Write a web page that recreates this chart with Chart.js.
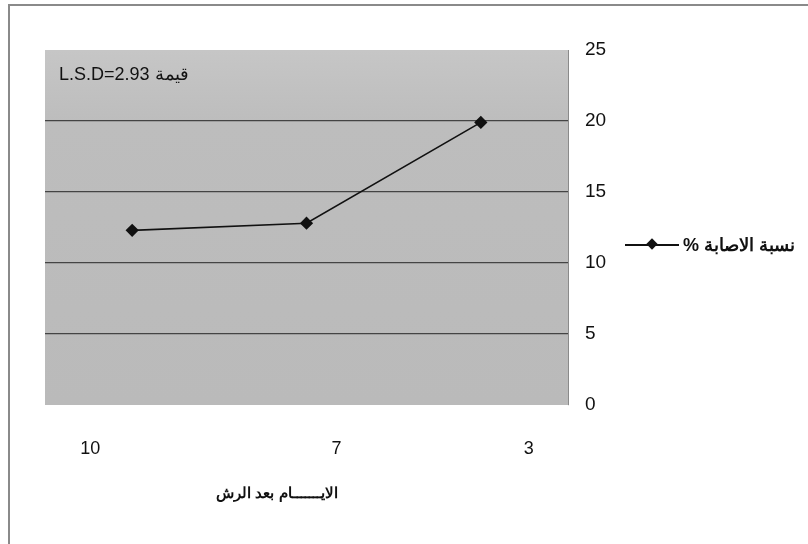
<!DOCTYPE html>
<html lang="ar">
<head>
<meta charset="utf-8">
<title>نسبة الاصابة</title>
<script src="https://cdn.jsdelivr.net/npm/chart.js@4/dist/chart.umd.min.js"></script>
<style>
  html, body { margin: 0; padding: 0; background: #fff; }
  #wrap { position: relative; width: 808px; height: 544px; font-family: "Liberation Sans", Arial, sans-serif; }
  #frame { position: absolute; left: 8px; top: 4px; width: 820px; height: 560px; border-left: 2px solid #8a8a8a; border-top: 2px solid #8a8a8a; box-sizing: border-box; }
  #lsd { position: absolute; left: 59px; top: 63px; font-size: 18px; color: #111; direction: rtl; white-space: nowrap; }
  #xtitle { position: absolute; left: 177px; top: 484px; width: 200px; text-align: center; font-size: 15px; font-weight: bold; color: #111; direction: rtl; }
  #legend { position: absolute; left: 625px; top: 234px; display: flex; align-items: center; direction: ltr; }
  #legend .sym { position: relative; width: 54px; height: 2px; background: #111; margin-right: 4px; }
  #legend .sym::after { content: ""; position: absolute; left: 23px; top: -4px; width: 8px; height: 8px; background: #111; transform: rotate(45deg); }
  #legend .txt { font-size: 18px; font-weight: bold; color: #111; direction: rtl; white-space: nowrap; }
</style>
</head>
<body>
<div id="wrap">
  <canvas id="chart" width="808" height="544"></canvas>
  <div id="frame"></div>
  <div id="lsd">قيمة L.S.D=2.93</div>
  <div id="xtitle">الايـــــــام بعد الرش</div>
  <div id="legend"><span class="sym"></span><span class="txt">نسبة الاصابة %</span></div>
</div>
<script>
// days after spraying, and infection percentage for each
const days = ['10', '7', '3'];
const infection = [12.3, 12.8, 19.9];
const yTicks = [0, 5, 10, 15, 20, 25];

// the day labels sit a little off their points
const dayLabelNudge = [-42, 30, 48];

const plotFill = {
  id: 'plotFill',
  beforeDraw(chart) {
    const { ctx, chartArea: a } = chart;
    ctx.save();
    const g = ctx.createLinearGradient(0, a.top, 0, a.bottom);
    g.addColorStop(0, '#c6c6c6');
    g.addColorStop(0.2, '#bdbdbd');
    g.addColorStop(1, '#bababa');
    ctx.fillStyle = g;
    ctx.fillRect(a.left, a.top, a.right - a.left, a.bottom - a.top);
    ctx.restore();
  }
};

const dayLabels = {
  id: 'dayLabels',
  afterDraw(chart) {
    const { ctx } = chart;
    const x = chart.scales.x;
    ctx.save();
    ctx.font = '18px "Liberation Sans", Arial, sans-serif';
    ctx.fillStyle = '#111';
    ctx.textAlign = 'center';
    ctx.textBaseline = 'middle';
    days.forEach((d, i) => {
      ctx.fillText(d, x.getPixelForValue(i) + dayLabelNudge[i], chart.chartArea.bottom + 44);
    });
    ctx.restore();
  }
};

new Chart(document.getElementById('chart'), {
  type: 'line',
  data: {
    labels: days,
    datasets: [{
      label: 'نسبة الاصابة %',
      data: infection,
      borderColor: '#111',
      backgroundColor: '#111',
      borderWidth: 1.6,
      pointStyle: 'rectRot',
      pointRadius: 5.5,
      pointHoverRadius: 5.5,
      tension: 0
    }]
  },
  options: {
    responsive: false,
    animation: false,
    layout: { padding: { left: 45, right: 200, top: 50, bottom: 139 } },
    plugins: {
      legend: { display: false },
      tooltip: { enabled: false }
    },
    scales: {
      x: {
        offset: true,
        ticks: { display: false },
        grid: { display: false },
        border: { display: false },
        afterFit(scale) { scale.height = 0; }
      },
      y: {
        position: 'right',
        min: 0,
        max: 25,
        afterBuildTicks(scale) { scale.ticks = yTicks.map(v => ({ value: v })); },
        afterFit(scale) { scale.width = 40; },
        ticks: {
          padding: 17,
          color: '#111',
          font: { family: '"Liberation Sans", Arial, sans-serif', size: 19 }
        },
        grid: {
          drawTicks: false,
          color: ctx => (ctx.tick.value === 0 || ctx.tick.value === 25) ? 'rgba(0,0,0,0)' : '#444',
          lineWidth: 1.2
        },
        border: { color: '#8a8a8a', width: 1 }
      }
    }
  },
  plugins: [plotFill, dayLabels]
});
</script>
</body>
</html>
